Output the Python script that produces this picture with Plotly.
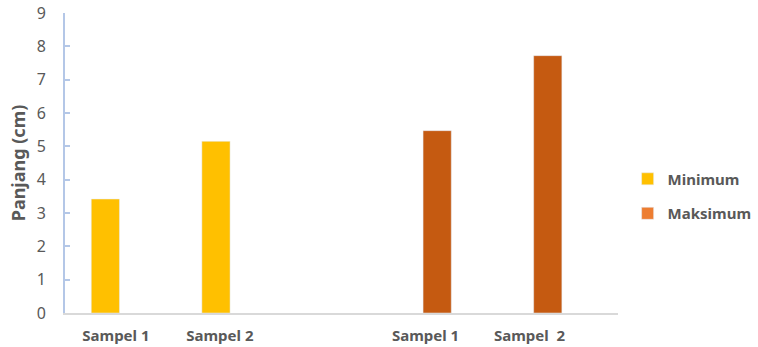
import plotly.graph_objects as go

# Data
series_names = ["Minimum", "Maksimum"]
min_labels = ["Sampel 1", "Sampel 2"]
max_labels = ["Sampel 1", "Sampel  2"]
min_values = [3.42, 5.15]
max_values = [5.47, 7.72]
bar_colors = ["#FFC000", "#C55A11"]
legend_colors = ["#FFC000", "#ED7D31"]

# slot layout (5 slots, middle one empty)
min_slots = [0, 1]
max_slots = [3, 4]
bar_shift = 0.365
bar_width = 0.255
label_pos_min = [0.46, 1.40]
label_pos_max = [3.26, 4.20]

fig = go.Figure()
fig.add_trace(go.Bar(x=[s + bar_shift for s in min_slots], y=min_values,
                     marker_color=bar_colors[0], width=bar_width,
                     showlegend=False, name=series_names[0]))
fig.add_trace(go.Bar(x=[s + bar_shift for s in max_slots], y=max_values,
                     marker_color=bar_colors[1], width=bar_width,
                     showlegend=False, name=series_names[1]))
# legend entries
for name, col in zip(series_names, legend_colors):
    fig.add_trace(go.Bar(x=[None], y=[None], name=name, marker_color=col,
                         showlegend=True, legendgroup=name))

grey = "#595959"
fig.update_layout(
    width=758, height=347,
    margin=dict(l=65, r=140, t=13, b=34, autoexpand=False),
    paper_bgcolor="white", plot_bgcolor="white",
    font=dict(family="Noto Sans", color=grey),
    barmode="overlay",
    legend=dict(xref="container", yref="container", x=0.828, y=0.435,
                xanchor="left", yanchor="middle",
                font=dict(size=15, color=grey, weight="bold"),
                tracegroupgap=12, itemwidth=30),
    xaxis=dict(range=[0, 5], showgrid=False, zeroline=False, automargin=False,
               showline=True, linecolor="#D9D9D9", linewidth=2,
               tickvals=label_pos_min + label_pos_max,
               ticktext=min_labels + max_labels,
               tickfont=dict(size=15, color=grey, weight="bold"),
               ticks="", ticklabelstandoff=8),
    yaxis=dict(range=[0, 9], dtick=1, showgrid=False, zeroline=False, automargin=False,
               showline=True, linecolor="#B4C7E7", linewidth=2,
               ticks="inside", ticklen=5, tickcolor="#B4C7E7", tickwidth=2,
               tickfont=dict(size=16, color=grey),
               ticklabelstandoff=14,
               title=dict(text="Panjang (cm)", font=dict(size=18, color=grey, weight="bold"),
                          standoff=6)),
)

fig.write_html("out.html")
